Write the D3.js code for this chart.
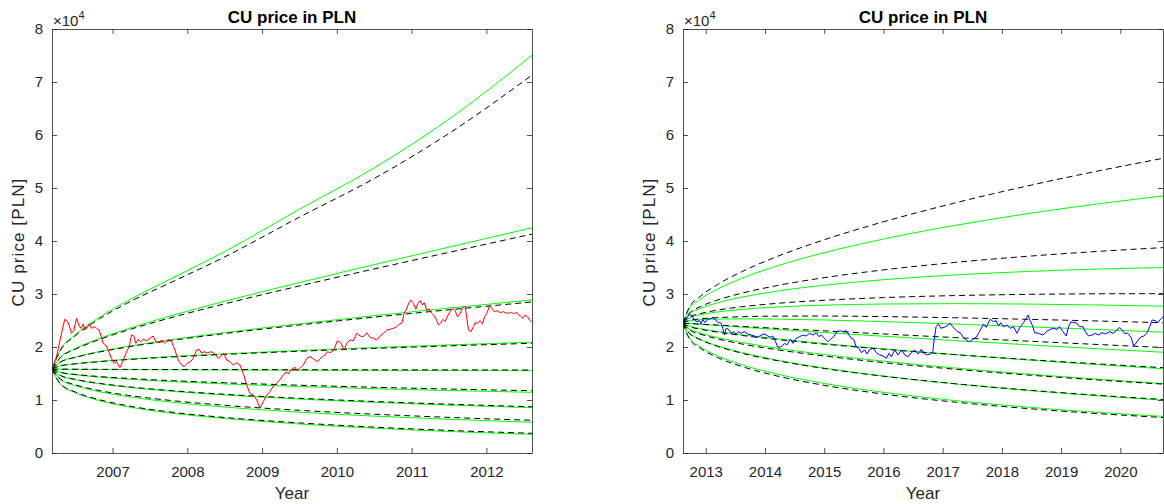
<!DOCTYPE html>
<html>
<head>
<meta charset="utf-8">
<script src="https://d3js.org/d3.v7.min.js"></script>
<style>
    body { margin: 0; background: #fff; }
    text { font-family: "Liberation Sans", Arial, Helvetica, sans-serif; }
</style>
</head>
<body>
<div id="chart"></div>
<script>
// tick values shared by both panels
const yTicks = [0, 10000, 20000, 30000, 40000, 50000, 60000, 70000, 80000];
const xTicksLeft = [2007, 2008, 2009, 2010, 2011, 2012];
const xTicksRight = [2013, 2014, 2015, 2016, 2017, 2018, 2019, 2020];
const domainLeft = [2006.19, 2012.61];
const domainRight = [2012.616, 2020.72];

// left panel: fan of quantile curves (green = simulated, dashed = theoretical)
const fanYearsLeft = [2006.19, 2006.30, 2006.50, 2006.80, 2007.20, 2007.80, 2008.50, 2009.50, 2010.50, 2011.50, 2012.61];
const greenLeft = [
    [15850, 19430, 22310, 25400, 28700, 33000, 38000, 46000, 53800, 63000, 75050],
    [15850, 18030, 19690, 21480, 23430, 25970, 28630, 32160, 35550, 38840, 42490],
    [15850, 17150, 18080, 19070, 20110, 21410, 22720, 24380, 25910, 27350, 28880],
    [15850, 16440, 16850, 17260, 17690, 18210, 18710, 19340, 19890, 20390, 20910],
    [15850, 15810, 15780, 15750, 15730, 15690, 15660, 15620, 15590, 15560, 15530],
    [15850, 15190, 14760, 14340, 13930, 13470, 13040, 12550, 12140, 11790, 11450],
    [15850, 14620, 13840, 13100, 12410, 11640, 10950, 10180, 9560, 9040, 8550],
    [15850, 13890, 12710, 11630, 10640, 9580, 8670, 7700, 6960, 6360, 5800],
    [15850, 13020, 11390, 9980, 8740, 7500, 6520, 5480, 4680, 4060, 3530]
];
const dashedLeft = [
    [15850, 19300, 22100, 25100, 28300, 32300, 37000, 44500, 51800, 60300, 71300],
    [15850, 17970, 19560, 21290, 23170, 25600, 28150, 31520, 34730, 37860, 41300],
    [15850, 17120, 18030, 18990, 20000, 21260, 22540, 24150, 25630, 27020, 28500],
    [15850, 16410, 16810, 17210, 17620, 18120, 18600, 19200, 19730, 20210, 20700],
    [15850, 15820, 15810, 15790, 15770, 15750, 15740, 15710, 15690, 15680, 15660],
    [15850, 15240, 14840, 14450, 14080, 13640, 13250, 12790, 12400, 12070, 11750],
    [15850, 14660, 13900, 13190, 12510, 11760, 11080, 10330, 9720, 9210, 8730],
    [15850, 14010, 12880, 11850, 10900, 9880, 9000, 8050, 7320, 6720, 6170],
    [15850, 13110, 11530, 10140, 8920, 7690, 6700, 5680, 4880, 4260, 3720]
];
// observed CU price 2006-2012
const priceLeft = [
    [2006.197, 15980], [2006.250, 18170], [2006.317, 22585], [2006.361, 25226], [2006.392, 24962],
    [2006.419, 24151], [2006.451, 22585], [2006.482, 23075], [2006.518, 25415], [2006.549, 24151],
    [2006.576, 23528], [2006.606, 24340], [2006.629, 23208], [2006.665, 23717], [2006.687, 24340],
    [2006.719, 23528], [2006.754, 23830], [2006.786, 23528], [2006.821, 23208], [2006.853, 21642],
    [2006.874, 20698], [2006.910, 20377], [2006.941, 19434], [2006.987, 17868], [2007.017, 16925],
    [2007.054, 17226], [2007.098, 16094], [2007.134, 17226], [2007.178, 18811], [2007.222, 20057],
    [2007.254, 22264], [2007.285, 22075], [2007.312, 20698], [2007.343, 21453], [2007.375, 21000],
    [2007.410, 21453], [2007.455, 21189], [2007.499, 21642], [2007.544, 22075], [2007.580, 21000],
    [2007.624, 20811], [2007.656, 21321], [2007.700, 20698], [2007.744, 21453], [2007.790, 21000],
    [2007.834, 19434], [2007.878, 17547], [2007.924, 16604], [2007.958, 16283], [2007.999, 16925],
    [2008.044, 17226], [2008.079, 17868], [2008.124, 19434], [2008.159, 19566], [2008.191, 18811],
    [2008.222, 19113], [2008.266, 18925], [2008.325, 19113], [2008.369, 18679], [2008.414, 17868],
    [2008.459, 18491], [2008.490, 18811], [2008.526, 17547], [2008.570, 17226], [2008.614, 16604],
    [2008.660, 17038], [2008.704, 16604], [2008.748, 15038], [2008.794, 12830], [2008.838, 11264],
    [2008.882, 10943], [2008.928, 10000], [2008.972, 8547], [2009.016, 9679], [2009.062, 10943],
    [2009.106, 11566], [2009.150, 12642], [2009.195, 13151], [2009.240, 13906], [2009.284, 14717],
    [2009.320, 15340], [2009.351, 14906], [2009.383, 15660], [2009.440, 16170], [2009.471, 15528],
    [2009.507, 15981], [2009.552, 16604], [2009.597, 17868], [2009.641, 18170], [2009.695, 17679],
    [2009.739, 17226], [2009.798, 18057], [2009.842, 18491], [2009.873, 19113], [2009.918, 18925],
    [2009.962, 19566], [2010.007, 21189], [2010.052, 20811], [2010.096, 19434], [2010.133, 20698],
    [2010.177, 21321], [2010.221, 21189], [2010.266, 22585], [2010.311, 22075], [2010.355, 21943],
    [2010.400, 22698], [2010.444, 21830], [2010.489, 21642], [2010.534, 21321], [2010.578, 22075],
    [2010.622, 22585], [2010.668, 23208], [2010.712, 23340], [2010.756, 23528], [2010.802, 23830],
    [2010.846, 24472], [2010.869, 24472], [2010.900, 26358], [2010.926, 26981], [2010.957, 28113],
    [2010.989, 28868], [2011.024, 28245], [2011.056, 27113], [2011.083, 28245], [2011.114, 28736],
    [2011.145, 27925], [2011.167, 28358], [2011.203, 26981], [2011.238, 27113], [2011.270, 26358],
    [2011.305, 25849], [2011.337, 24962], [2011.359, 24151], [2011.391, 24585], [2011.418, 25226],
    [2011.448, 24774], [2011.479, 25849], [2011.515, 26660], [2011.552, 27302], [2011.582, 26849],
    [2011.613, 25717], [2011.649, 26358], [2011.685, 27491], [2011.716, 27604], [2011.739, 25415],
    [2011.760, 23208], [2011.793, 22887], [2011.827, 23830], [2011.850, 24585], [2011.881, 24472],
    [2011.917, 24962], [2011.948, 24340], [2011.975, 25717], [2012.007, 26358], [2012.041, 27736],
    [2012.074, 27302], [2012.104, 26660], [2012.141, 26849], [2012.185, 26472], [2012.229, 26660],
    [2012.274, 26358], [2012.319, 26472], [2012.363, 26358], [2012.408, 26472], [2012.452, 25849],
    [2012.488, 25415], [2012.519, 26038], [2012.549, 25717], [2012.576, 25094], [2012.609, 24774]
];

// right panel
const fanYearsRight = [2012.616, 2012.72, 2012.90, 2013.20, 2013.60, 2014.20, 2015.00, 2016.00, 2017.20, 2018.50, 2019.70, 2020.72];
const greenRight = [
    [24500, 27160, 28940, 30930, 32930, 35280, 37790, 40370, 42930, 45270, 47110, 48500],
    [24500, 26170, 27220, 28340, 29390, 30540, 31660, 32700, 33590, 34280, 34730, 35000],
    [24500, 25480, 26060, 26620, 27090, 27540, 27890, 28110, 28180, 28090, 27910, 27700],
    [24500, 24930, 25120, 25260, 25310, 25270, 25100, 24790, 24340, 23790, 23270, 22800],
    [24500, 24420, 24280, 24060, 23760, 23310, 22740, 22030, 21220, 20370, 19620, 19010],
    [24500, 23930, 23490, 22930, 22320, 21550, 20640, 19630, 18560, 17500, 16610, 15900],
    [24500, 23410, 22650, 21770, 20870, 19780, 18580, 17330, 16040, 14840, 13860, 13100],
    [24500, 22700, 21520, 20220, 18970, 17520, 16020, 14510, 13050, 11750, 10720, 9960],
    [24500, 21770, 20090, 18330, 16690, 14900, 13120, 11450, 9900, 8590, 7610, 6900]
];
const dashedRight = [
    [24500, 27450, 29480, 31800, 34170, 37050, 40230, 43620, 47160, 50560, 53380, 55600],
    [24500, 26350, 27560, 28860, 30130, 31580, 33080, 34550, 35950, 37170, 38090, 38750],
    [24500, 25600, 26270, 26960, 27580, 28230, 28820, 29320, 29700, 29940, 30040, 30060],
    [24500, 25020, 25300, 25540, 25710, 25820, 25840, 25740, 25520, 25210, 24880, 24570],
    [24500, 24430, 24320, 24140, 23890, 23520, 23050, 22460, 21780, 21070, 20430, 19900],
    [24500, 23860, 23380, 22800, 22190, 21420, 20540, 19590, 18570, 17590, 16760, 16100],
    [24500, 23280, 22460, 21530, 20590, 19490, 18300, 17060, 15810, 14660, 13720, 13000],
    [24500, 22630, 21420, 20120, 18860, 17430, 15950, 14490, 13080, 11820, 10830, 10100],
    [24500, 21600, 19840, 18020, 16350, 14540, 12770, 11120, 9610, 8330, 7380, 6700]
];
// observed CU price 2012-2020
const priceRight = [
    [2012.640, 24585], [2012.679, 25415], [2012.724, 26226], [2012.768, 25849], [2012.809, 25094],
    [2012.848, 24774], [2012.893, 24962], [2012.921, 24340], [2012.949, 25226], [2012.988, 24585],
    [2013.034, 25226], [2013.090, 25415], [2013.130, 25604], [2013.174, 24962], [2013.220, 24585],
    [2013.259, 24472], [2013.287, 23528], [2013.316, 22264], [2013.343, 23528], [2013.384, 23340],
    [2013.428, 22585], [2013.468, 22887], [2013.512, 22453], [2013.558, 22887], [2013.597, 22585],
    [2013.654, 22887], [2013.710, 22453], [2013.766, 22264], [2013.823, 22075], [2013.879, 21830],
    [2013.935, 22264], [2013.993, 22453], [2014.048, 22075], [2014.087, 21830], [2014.133, 22075],
    [2014.179, 21000], [2014.217, 19943], [2014.273, 20057], [2014.331, 20698], [2014.370, 20377],
    [2014.425, 21453], [2014.471, 20698], [2014.527, 21642], [2014.584, 21943], [2014.640, 22264],
    [2014.696, 22075], [2014.753, 22585], [2014.809, 22264], [2014.865, 22698], [2014.911, 21943],
    [2014.950, 22264], [2015.007, 21642], [2015.063, 21000], [2015.102, 21453], [2015.159, 21943],
    [2015.215, 22887], [2015.271, 23075], [2015.317, 22887], [2015.372, 23075], [2015.418, 22264],
    [2015.457, 21642], [2015.497, 21453], [2015.541, 20057], [2015.587, 19755], [2015.626, 18925],
    [2015.683, 19434], [2015.722, 18679], [2015.768, 19566], [2015.824, 19755], [2015.880, 18925],
    [2015.937, 18491], [2015.993, 18302], [2016.049, 17868], [2016.094, 18811], [2016.133, 18170],
    [2016.191, 19434], [2016.247, 18491], [2016.302, 19434], [2016.360, 18491], [2016.416, 18170],
    [2016.471, 18925], [2016.529, 19434], [2016.585, 18679], [2016.640, 19566], [2016.674, 18925],
    [2016.732, 18491], [2016.788, 18679], [2016.833, 19113], [2016.855, 21321], [2016.889, 23830],
    [2016.928, 24340], [2016.969, 23528], [2017.024, 23717], [2017.070, 23962], [2017.126, 24472],
    [2017.171, 23830], [2017.210, 23340], [2017.249, 22887], [2017.295, 22698], [2017.351, 21830],
    [2017.408, 21189], [2017.452, 21000], [2017.510, 21453], [2017.565, 21830], [2017.621, 22887],
    [2017.689, 24340], [2017.734, 23717], [2017.802, 25226], [2017.858, 24774], [2017.904, 24962],
    [2017.943, 23962], [2017.983, 24585], [2018.027, 23830], [2018.085, 24151], [2018.140, 23528],
    [2018.196, 23830], [2018.253, 22585], [2018.309, 23830], [2018.365, 24585], [2018.411, 25415],
    [2018.440, 26038], [2018.478, 24962], [2018.524, 23830], [2018.551, 22698], [2018.619, 22585],
    [2018.693, 22264], [2018.749, 22887], [2018.817, 23340], [2018.873, 23528], [2018.930, 23340],
    [2018.974, 23830], [2019.031, 22887], [2019.087, 22075], [2019.126, 23830], [2019.167, 24774],
    [2019.211, 24585], [2019.256, 24585], [2019.312, 23830], [2019.370, 23830], [2019.408, 22887],
    [2019.464, 22075], [2019.522, 22264], [2019.578, 22585], [2019.633, 22264], [2019.691, 22698],
    [2019.747, 22453], [2019.819, 22887], [2019.877, 22585], [2019.944, 23208], [2019.989, 23717],
    [2020.029, 23208], [2020.068, 22585], [2020.124, 22585], [2020.181, 21830], [2020.225, 20189],
    [2020.283, 21000], [2020.339, 21830], [2020.395, 22075], [2020.452, 22698], [2020.496, 23830],
    [2020.537, 25094], [2020.593, 24962], [2020.631, 24585], [2020.677, 25226], [2020.723, 25717]
];

const AXIS_COLOR = "#262626";

class PricePanel {
    constructor(svg, cfg) {
        this.svg = svg;
        this.cfg = cfg;
        this.margin = { left: cfg.left, top: 29 };
        this.innerW = 480;
        this.innerH = 424;
    }

    draw() {
        this.add_chart_area();
        this.add_scale();
        this.draw_fan(this.cfg.green, "#00ff00", null);
        this.draw_fan(this.cfg.dashed, "#000000", "6,4");
        this.draw_price();
        this.add_axis();
        this.add_label();
    }

    add_chart_area() {
        this.ChartArea = this.svg.append("g")
            .attr("transform", `translate(${this.margin.left},${this.margin.top})`);
        const clipId = `clip-${this.cfg.id}`;
        this.ChartArea.append("clipPath").attr("id", clipId)
            .append("rect").attr("width", this.innerW).attr("height", this.innerH);
        this.draw_area = this.ChartArea.append("g").attr("clip-path", `url(#${clipId})`);
    }

    add_scale() {
        this.x = d3.scaleLinear().domain(this.cfg.domain).range([0, this.innerW]);
        this.y = d3.scaleLinear().domain([0, 80000]).range([this.innerH, 0]);
    }

    draw_fan(rows, color, dash) {
        const years = this.cfg.fanYears;
        const line = d3.line()
            .x((d, i) => this.x(years[i]))
            .y(d => this.y(d))
            .curve(d3.curveMonotoneX);
        this.draw_area.append("g").selectAll("path").data(rows).join("path")
            .attr("d", line)
            .attr("fill", "none")
            .attr("stroke", color)
            .attr("stroke-width", 1)
            .attr("stroke-dasharray", dash);
    }

    draw_price() {
        const line = d3.line().x(d => this.x(d[0])).y(d => this.y(d[1]));
        this.draw_area.append("path").datum(this.cfg.price)
            .attr("d", line)
            .attr("fill", "none")
            .attr("stroke", this.cfg.priceColor)
            .attr("stroke-width", 1);
    }

    add_axis() {
        const xt = this.cfg.xTicks;
        const style = g => {
            g.selectAll("path, line").attr("stroke", AXIS_COLOR).attr("stroke-width", 0.8);
            g.selectAll("text").attr("fill", AXIS_COLOR).attr("font-size", 15)
                .attr("font-family", "Liberation Sans, Arial, sans-serif");
        };
        this.ChartArea.append("g").attr("transform", `translate(0,${this.innerH})`)
            .call(d3.axisBottom(this.x).tickValues(xt).tickFormat(d3.format("d"))
                .tickSizeInner(-5).tickSizeOuter(0).tickPadding(13)).call(style);
        this.ChartArea.append("g")
            .call(d3.axisTop(this.x).tickValues(xt).tickFormat("")
                .tickSizeInner(-5).tickSizeOuter(0)).call(style);
        this.ChartArea.append("g")
            .call(d3.axisLeft(this.y).tickValues(yTicks).tickFormat(d => d / 10000)
                .tickSizeInner(-5).tickSizeOuter(0).tickPadding(9)).call(style);
        this.ChartArea.append("g").attr("transform", `translate(${this.innerW},0)`)
            .call(d3.axisRight(this.y).tickValues(yTicks).tickFormat("")
                .tickSizeInner(-5).tickSizeOuter(0)).call(style);
    }

    add_label() {
        this.ChartArea.append("text")
            .attr("x", this.innerW / 2).attr("y", -6.5)
            .attr("text-anchor", "middle")
            .attr("font-size", 17).attr("font-weight", "bold")
            .attr("fill", "#000")
            .text("CU price in PLN");
        this.ChartArea.append("text")
            .attr("x", this.innerW / 2).attr("y", this.innerH + 46)
            .attr("text-anchor", "middle")
            .attr("font-size", 17).attr("fill", AXIS_COLOR)
            .text("Year");
        this.ChartArea.append("text")
            .attr("transform", `translate(-28,${this.innerH / 2 + 1}) rotate(-90)`)
            .attr("text-anchor", "middle")
            .attr("font-size", 17).attr("fill", AXIS_COLOR)
            .attr("letter-spacing", 1.1)
            .text("CU price [PLN]");
        const exp = this.ChartArea.append("text")
            .attr("x", 1).attr("y", -3)
            .attr("font-size", 15).attr("fill", AXIS_COLOR);
        exp.append("tspan").text("\u00d710");
        exp.append("tspan").attr("font-size", 11).attr("dy", -7).text("4");
    }
}

const svg = d3.select("#chart").append("svg")
    .attr("width", 1164).attr("height", 504);

new PricePanel(svg, {
    id: "left", left: 52, domain: domainLeft, xTicks: xTicksLeft,
    fanYears: fanYearsLeft, green: greenLeft, dashed: dashedLeft,
    price: priceLeft, priceColor: "#ff0000"
}).draw();

new PricePanel(svg, {
    id: "right", left: 683, domain: domainRight, xTicks: xTicksRight,
    fanYears: fanYearsRight, green: greenRight, dashed: dashedRight,
    price: priceRight, priceColor: "#0000ff"
}).draw();
</script>
</body>
</html>
